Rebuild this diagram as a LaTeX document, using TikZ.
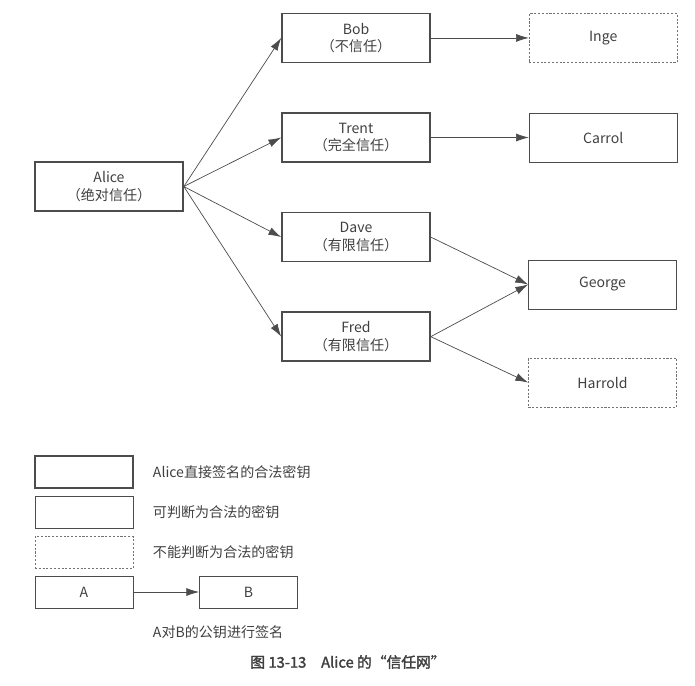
\documentclass[tikz,border=0pt]{standalone}
\usepackage{fontspec}
\setmainfont{Noto Sans CJK SC}[AutoFakeBold=2]
\usepackage{xcolor}
\usepackage{tikz}
\usetikzlibrary{arrows.meta,positioning}

\begin{document}
\begin{tikzpicture}[
  x=0.025cm, y=-0.025cm,
  node distance=1.225cm and 2.45cm,
  every node/.style={font=\fontsize{10}{12.5}\selectfont, text=black!75},
  box/.style={draw=black!70, align=center, minimum width=3.7cm, minimum height=1.225cm, inner sep=1pt},
  direct/.style={box, line width=1.1pt},
  valid/.style={box, line width=0.5pt},
  unknown/.style={box, line width=0.5pt, dash pattern=on 1.5pt off 1.2pt, draw=black!55},
  keybox/.style={minimum width=2.45cm, minimum height=0.8cm},
  legend/.style={anchor=west},
  arrow/.style={-{Latex[length=0.32cm, width=0.2cm]}, draw=black!70, line width=0.5pt}
]
\useasboundingbox (0,0) rectangle (695,685);

% trust web
\node[direct] (alice) at (109,186.5) {Alice\\（绝对信任）};
\node[direct] (trent) at (356,137.5) {Trent\\（完全信任）};
\node[direct, above=of trent] (bob) {Bob\\（不信任）};
\node[direct, below=of trent] (dave) {Dave\\（有限信任）};
\node[direct, below=of dave] (fred) {Fred\\（有限信任）};
\node[unknown, right=of bob] (inge) {Inge};
\node[valid, right=of trent] (carrol) {Carrol};
\node[valid] (george) at (602.5,284.5) {George};
\node[unknown] (harrold) at (602.5,382.5) {Harrold};

\draw[arrow] (alice.east) -- (bob.west);
\draw[arrow] (alice.east) -- (trent.west);
\draw[arrow] (alice.east) -- (dave.west);
\draw[arrow] (alice.east) -- (fred.west);
\draw[arrow] (bob) -- (inge);
\draw[arrow] (trent) -- (carrol);
\draw[arrow] (dave.east) -- (george.west);
\draw[arrow] (fred.east) -- (george.west);
\draw[arrow] (fred.east) -- (harrold.west);

% legend
\node[direct, keybox] (k1) at (84,472) {};
\node[valid, keybox] (k2) at (84,512) {};
\node[unknown, keybox] (k3) at (84,552.5) {};
\node[valid, keybox] (ka) at (84,592) {A};
\node[valid, keybox] (kb) at (248.5,592) {B};
\draw[arrow] (ka) -- (kb);

\node[legend] (t1) at (148,472) {Alice直接签名的合法密钥};
\node[legend] (t2) at (148,512) {可判断为合法的密钥};
\node[legend] (t3) at (148,552) {不能判断为合法的密钥};
\node[legend] (t4) at (148,632) {A对B的公钥进行签名};

\node (caption) at (348,662) {\fontsize{10.5}{12}\selectfont\bfseries 图 13-13\quad Alice 的“信任网”};
\end{tikzpicture}
\end{document}
